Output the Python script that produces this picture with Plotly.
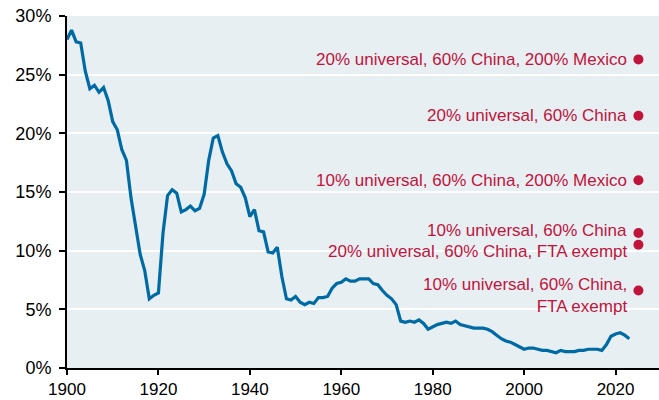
import plotly.graph_objects as go

years = list(range(1900, 2024))
tariff = [28.0, 28.8, 27.8, 27.7, 25.3, 23.8, 24.1, 23.5, 23.9, 22.8,
          21.0, 20.3, 18.6, 17.7, 14.5, 12.0, 9.7, 8.3, 5.9, 6.2,
          6.4, 11.5, 14.7, 15.2, 14.9, 13.3, 13.5, 13.8, 13.4, 13.6,
          14.8, 17.7, 19.6, 19.8, 18.4, 17.4, 16.8, 15.7, 15.4, 14.5,
          12.9, 13.5, 11.7, 11.6, 9.9, 9.8, 10.3, 7.8, 5.9, 5.8,
          6.1, 5.6, 5.4, 5.6, 5.5, 6.0, 6.0, 6.1, 6.8, 7.2,
          7.3, 7.6, 7.4, 7.4, 7.6, 7.6, 7.6, 7.2, 7.1, 6.6,
          6.2, 5.9, 5.4, 4.0, 3.9, 4.0, 3.9, 4.1, 3.8, 3.3,
          3.5, 3.7, 3.8, 3.9, 3.8, 4.0, 3.7, 3.6, 3.5, 3.4,
          3.4, 3.4, 3.3, 3.1, 2.8, 2.5, 2.3, 2.2, 2.0, 1.8,
          1.6, 1.7, 1.7, 1.6, 1.5, 1.5, 1.4, 1.3, 1.5, 1.4,
          1.4, 1.4, 1.5, 1.5, 1.6, 1.6, 1.6, 1.5, 2.0, 2.7,
          2.9, 3.0, 2.8, 2.5]

scenario_year = 2025
scenario_values = [26.3, 21.5, 16.0, 11.5, 10.5, 6.6]
scenario_labels = ["20% universal, 60% China, 200% Mexico",
                   "20% universal, 60% China",
                   "10% universal, 60% China, 200% Mexico",
                   "10% universal, 60% China",
                   "20% universal, 60% China, FTA exempt",
                   "10% universal, 60% China,<br>FTA exempt"]
label_y = [26.3, 21.5, 16.0, 11.68, 9.91, 6.18]

y_ticks = [0, 5, 10, 15, 20, 25, 30]
y_tick_text = [f"{v}%" for v in y_ticks]
x_ticks = [1900, 1920, 1940, 1960, 1980, 2000, 2020]

red = "#c0143c"
blue = "#006aa4"
font_family = "Liberation Sans, Arial, sans-serif"

fig = go.Figure()
fig.add_trace(go.Scatter(x=years, y=tariff, mode="lines",
                         line=dict(color=blue, width=3.2), hoverinfo="skip"))
fig.add_trace(go.Scatter(x=[scenario_year] * len(scenario_values), y=scenario_values,
                         mode="markers", marker=dict(color=red, size=10), hoverinfo="skip"))

for txt, yv in zip(scenario_labels, label_y):
    fig.add_annotation(x=scenario_year, y=yv, xref="x", yref="y", text=txt,
                       showarrow=False, xanchor="right", yanchor="middle",
                       align="right", xshift=-9,
                       font=dict(color=red, size=17, family=font_family))

fig.update_layout(
    width=659, height=400,
    margin=dict(l=67, r=0, t=16, b=32),
    paper_bgcolor="white", plot_bgcolor="#e7eff3",
    showlegend=False,
    font=dict(family=font_family, size=18, color="black"),
)
fig.update_xaxes(range=[1900, 2029.5], tickvals=x_ticks, showgrid=False,
                 showline=True, linecolor="black", linewidth=2,
                 ticks="outside", ticklen=5, tickwidth=2, tickcolor="black",
                 zeroline=False, tickfont=dict(size=17), automargin=False)
fig.update_yaxes(range=[0, 30], tickvals=y_ticks, ticktext=y_tick_text,
                 showgrid=True, gridcolor="white", gridwidth=2,
                 showline=True, linecolor="black", linewidth=2,
                 ticks="outside", ticklen=6, tickwidth=2, tickcolor="black",
                 zeroline=False, tickfont=dict(size=18), ticklabelstandoff=4,
                 automargin=False)

fig.write_html("out.html", config={"displayModeBar": False},
               post_script="document.body.style.margin='0';")
